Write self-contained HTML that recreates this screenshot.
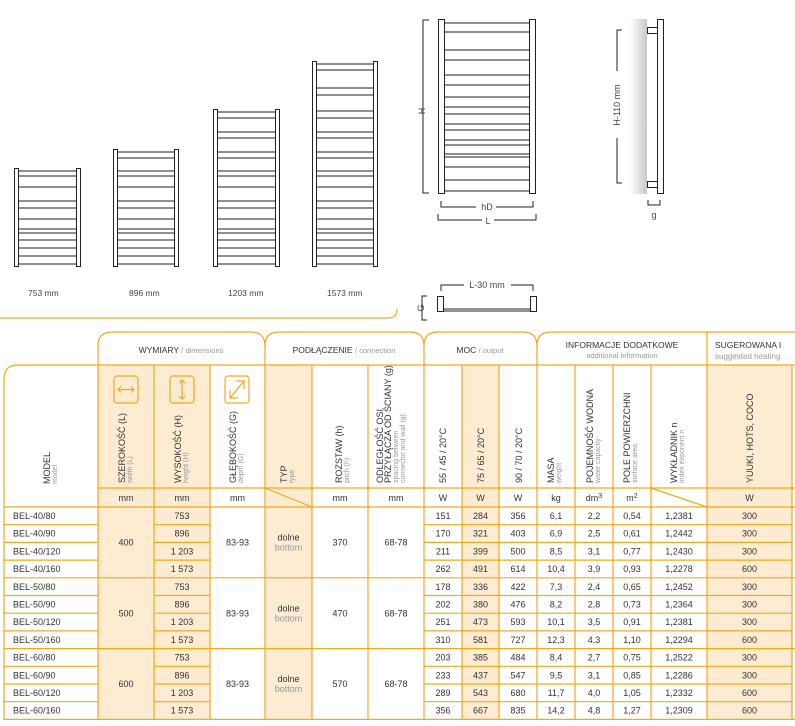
<!DOCTYPE html>
<html><head><meta charset="utf-8"><style>
html,body{margin:0;padding:0;background:#fff;width:795px;height:726px;overflow:hidden}
svg{display:block;font-family:"Liberation Sans",sans-serif}
.t{font-size:9px;fill:#333}
.s{font-size:7px;fill:#999}
.c{text-anchor:middle}
.o{stroke:#f5a81c;fill:none;stroke-width:1.2}
.k{stroke:#222;stroke-width:1;fill:none}
</style></head><body>
<svg width="795" height="726" viewBox="0 0 795 726">
<defs>
<linearGradient id="wall" x1="0" x2="1"><stop offset="0" stop-color="#fff"/><stop offset="1" stop-color="#c8c8c8"/></linearGradient>
</defs>
<!-- top drawings -->
<path class="o" d="M0,318 H388 Q397,318 397,309"/>
<g class="k">
<rect x="14.5" y="168.5" width="4" height="98"/><rect x="76.5" y="168.5" width="4" height="98"/>
<path d="M18,171H77M18,176H77M18,187H77M18,201H77M18,208H77M18,219H77M18,229H77M18,233H77M18,240H77M18,248H77M18,256H77M18,264H77"/>
<rect x="113.5" y="149.5" width="4" height="117"/><rect x="174.5" y="149.5" width="4" height="117"/>
<path d="M117,152H175M117,158H175M117,171H175M117,176H175M117,187H175M117,201H175M117,208H175M117,219H175M117,229H175M117,233H175M117,240H175M117,248H175M117,256H175M117,264H175"/>
<rect x="213.5" y="109.5" width="4" height="157"/><rect x="275.5" y="109.5" width="4" height="157"/>
<path d="M217,112H276M217,118H276M217,132H276M217,138H276M217,152H276M217,158H276M217,171H276M217,176H276M217,187H276M217,201H276M217,208H276M217,219H276M217,229H276M217,233H276M217,240H276M217,248H276M217,256H276M217,264H276"/>
<rect x="312.5" y="61.5" width="4" height="205"/><rect x="373.5" y="61.5" width="4" height="205"/>
<path d="M316,64H374M316,70H374M316,88H374M316,95H374M316,111H374M316,118H374M316,132H374M316,138H374M316,152H374M316,158H374M316,171H374M316,176H374M316,187H374M316,201H374M316,208H374M316,219H374M316,229H374M316,233H374M316,240H374M316,248H374M316,256H374M316,264H374"/>
</g>
<g style="font-size:8.5px;fill:#444">
<text x="28" y="296">753 mm</text><text x="129" y="296">896 mm</text><text x="228" y="296">1203 mm</text><text x="327" y="296">1573 mm</text>
</g>
<!-- main diagram -->
<g class="k">
<rect x="438.5" y="19.5" width="6" height="174"/><rect x="529.5" y="19.5" width="6" height="174"/>
<path d="M444,23H530M444,32H530M444,50H530M444,60H530M444,75H530M444,85H530M444,97H530M444,107H530M444,114H530M444,124H530M444,130H530M444,140H530M444,145H530M444,154H530M444,157H530M444,167H530M444,180H530M444,191H530"/>
<path d="M429,20H423V193H429M441,201V207H476M496,207H533V201M438,214V220H482M494,220H536V214"/>
<rect x="437.5" y="296.5" width="6" height="15"/><rect x="530.5" y="296.5" width="6" height="15"/>
<path d="M443,309H531M443,311H531M441,291V285H464M511,285H533V291M427,296H422V320H427"/>
<path d="M622,30H617V71M617,138V183H622"/>
<rect x="657.5" y="19.5" width="6" height="174"/>
<rect x="647.5" y="27.5" width="10" height="6"/><rect x="647.5" y="181.5" width="10" height="6"/>
<path d="M648,200V205H660V200"/>
</g>
<rect x="630" y="19" width="17" height="175" fill="url(#wall)"/>
<g style="font-size:9px;fill:#444">
<text x="0" y="0" transform="translate(425,111) rotate(-90)" text-anchor="middle">H</text>
<text x="487" y="210" text-anchor="middle">hD</text>
<text x="488" y="224" text-anchor="middle">L</text>
<text x="487" y="288" text-anchor="middle">L-30 mm</text>
<text x="0" y="0" transform="translate(424,308) rotate(-90)" text-anchor="middle">G</text>
<text x="0" y="0" transform="translate(620,105) rotate(-90)" text-anchor="middle">H-110 mm</text>
<text x="654" y="218" text-anchor="middle">g</text>
</g>
<!-- table fills -->
<g fill="#fdebd2">
<rect x="98" y="365" width="112" height="355"/>
<rect x="265" y="365" width="47" height="355"/>
<rect x="462" y="365" width="37" height="355"/>
<rect x="707" y="365" width="85" height="355"/>
</g>
<!-- table lines -->
<g class="o">
<path d="M98,365V346Q98,332 112,332H251Q265,332 265,346V365"/>
<path d="M265,346Q265,332 279,332H410Q424,332 424,346V365"/>
<path d="M424,346Q424,332 438,332H523Q537,332 537,346V365"/>
<path d="M537,346Q537,332 551,332H707V365"/>
<path d="M707,332H795"/>
<path d="M4,720V379Q4,365 18,365H795"/>
<path d="M98,365V720M154,365V720M210,365V720M265,365V720M312,365V720M368,365V720M424,365V720M462,365V720M499,365V720M537,365V720M575,365V720M613,365V720M651,365V720M707,365V720M792,365V720"/>
<path d="M98,488H795M4,507H795"/>
<path d="M265,488L312,507M651,488L707,507"/>
<path d="M4,577.8H795M4,648.6H795M4,719.4H795"/>
<path d="M4,524.7H98M4,542.4H98M4,560.1H98M4,595.5H98M4,613.2H98M4,630.9H98M4,666.3H98M4,684H98M4,701.7H98"/>
<path d="M154,524.7H210M154,542.4H210M154,560.1H210M154,595.5H210M154,613.2H210M154,630.9H210M154,666.3H210M154,684H210M154,701.7H210"/>
<path d="M424,524.7H792M424,542.4H792M424,560.1H792M424,595.5H792M424,613.2H792M424,630.9H792M424,666.3H792M424,684H792M424,701.7H792"/>
<rect x="114" y="376" width="24" height="27" rx="3"/>
<rect x="170" y="376" width="24" height="27" rx="3"/>
<rect x="225" y="376" width="24" height="27" rx="3"/>
<path d="M118,389.5H134M121,386.5L118,389.5L121,392.5M131,386.5L134,389.5L131,392.5"/>
<path d="M182,380V399M179,383L182,380L185,383M179,396L182,399L185,396"/>
<path d="M230,398L244,381M236,381H244V389M230,390V398H238"/>
</g>
<!-- group headers -->
<text x="181" y="353" class="c" style="font-size:8.5px;fill:#333">WYMIARY <tspan style="fill:#999;font-size:7.5px">/ dimensions</tspan></text>
<text x="344" y="353" class="c" style="font-size:8.5px;fill:#333">PODŁĄCZENIE <tspan style="fill:#999;font-size:7.5px">/ connection</tspan></text>
<text x="480" y="353" class="c" style="font-size:8.5px;fill:#333">MOC <tspan style="fill:#999;font-size:7.5px">/ output</tspan></text>
<text x="622" y="348" class="c" style="font-size:8.5px;fill:#333">INFORMACJE DODATKOWE</text>
<text x="622" y="358" class="c" style="font-size:7.5px;fill:#999">additional information</text>
<text x="715" y="348" style="font-size:8.5px;fill:#333">SUGEROWANA I</text>
<text x="715" y="359" style="font-size:8px;fill:#999">suggested heating</text>
<!-- vertical headers -->
<g>
<text class="t" transform="translate(50,484) rotate(-90)">MODEL</text>
<text class="s" transform="translate(57,484) rotate(-90)">model</text>
<text class="t" transform="translate(125,483) rotate(-90)">SZEROKOŚĆ (L)</text>
<text class="s" transform="translate(132,483) rotate(-90)">width (L)</text>
<text class="t" transform="translate(181,483) rotate(-90)">WYSOKOŚĆ (H)</text>
<text class="s" transform="translate(188,483) rotate(-90)">height (H)</text>
<text class="t" transform="translate(236,483) rotate(-90)">GŁĘBOKOŚĆ (G)</text>
<text class="s" transform="translate(243,483) rotate(-90)">depth (G)</text>
<text class="t" transform="translate(287,483) rotate(-90)">TYP</text>
<text class="s" transform="translate(294,483) rotate(-90)">type</text>
<text class="t" transform="translate(342,483) rotate(-90)">ROZSTAW (h)</text>
<text class="s" transform="translate(349,483) rotate(-90)">pitch (h)</text>
<text class="t" transform="translate(383,483) rotate(-90)">ODLEGŁOŚĆ OSI</text>
<text class="t" transform="translate(391,483) rotate(-90)">PRZYŁĄCZA OD ŚCIANY (g)</text>
<text class="s" transform="translate(398,483) rotate(-90)">spacing between</text>
<text class="s" transform="translate(405,483) rotate(-90)">connector and wall (g)</text>
<text class="t" transform="translate(446,483) rotate(-90)">55 / 45 / 20°C</text>
<text class="t" transform="translate(484,483) rotate(-90)">75 / 65 / 20°C</text>
<text class="t" transform="translate(522,483) rotate(-90)">90 / 70 / 20°C</text>
<text class="t" transform="translate(554,483) rotate(-90)">MASA</text>
<text class="s" transform="translate(561,483) rotate(-90)">weight</text>
<text class="t" transform="translate(593,483) rotate(-90)">POJEMNOŚĆ WODNA</text>
<text class="s" transform="translate(600,483) rotate(-90)">water capacity</text>
<text class="t" transform="translate(630,483) rotate(-90)">POLE POWIERZCHNI</text>
<text class="s" transform="translate(637,483) rotate(-90)">surface area</text>
<text class="t" transform="translate(677,483) rotate(-90)">WYKŁADNIK n</text>
<text class="s" transform="translate(684,483) rotate(-90)">index exponent n</text>
<text class="t" transform="translate(753,483) rotate(-90)">YUUKI, HOTS, COCO</text>
</g>
<!-- units -->
<g class="t c">
<text x="126" y="501">mm</text><text x="182" y="501">mm</text><text x="237.5" y="501">mm</text><text x="340" y="501">mm</text><text x="396" y="501">mm</text>
<text x="443" y="501">W</text><text x="480.5" y="501">W</text><text x="518" y="501">W</text><text x="556" y="501">kg</text><text x="594" y="501">dm<tspan dy="-3" style="font-size:7px">3</tspan></text><text x="632" y="501">m<tspan dy="-3" style="font-size:7px">2</tspan></text><text x="749.5" y="501">W</text>
</g>
<!-- group merged -->
<g class="t c">
<g transform="translate(0,545.5)"><text x="126">400</text><text x="237.5">83-93</text><text x="288.5" y="-5">dolne</text><text x="288.5" y="5" style="fill:#999">bottom</text><text x="340">370</text><text x="396">68-78</text></g>
<g transform="translate(0,616.3)"><text x="126">500</text><text x="237.5">83-93</text><text x="288.5" y="-5">dolne</text><text x="288.5" y="5" style="fill:#999">bottom</text><text x="340">470</text><text x="396">68-78</text></g>
<g transform="translate(0,687.1)"><text x="126">600</text><text x="237.5">83-93</text><text x="288.5" y="-5">dolne</text><text x="288.5" y="5" style="fill:#999">bottom</text><text x="340">570</text><text x="396">68-78</text></g>
</g>
<!-- rows -->
<g class="t c">
<g transform="translate(0,519)"><text x="13" text-anchor="start">BEL-40/80</text><text x="182">753</text><text x="443">151</text><text x="480.5">284</text><text x="518">356</text><text x="556">6,1</text><text x="594">2,2</text><text x="632">0,54</text><text x="679">1,2381</text><text x="749.5">300</text></g>
<g transform="translate(0,536.7)"><text x="13" text-anchor="start">BEL-40/90</text><text x="182">896</text><text x="443">170</text><text x="480.5">321</text><text x="518">403</text><text x="556">6,9</text><text x="594">2,5</text><text x="632">0,61</text><text x="679">1,2442</text><text x="749.5">300</text></g>
<g transform="translate(0,554.4)"><text x="13" text-anchor="start">BEL-40/120</text><text x="182">1 203</text><text x="443">211</text><text x="480.5">399</text><text x="518">500</text><text x="556">8,5</text><text x="594">3,1</text><text x="632">0,77</text><text x="679">1,2430</text><text x="749.5">300</text></g>
<g transform="translate(0,572.1)"><text x="13" text-anchor="start">BEL-40/160</text><text x="182">1 573</text><text x="443">262</text><text x="480.5">491</text><text x="518">614</text><text x="556">10,4</text><text x="594">3,9</text><text x="632">0,93</text><text x="679">1,2278</text><text x="749.5">600</text></g>
<g transform="translate(0,589.8)"><text x="13" text-anchor="start">BEL-50/80</text><text x="182">753</text><text x="443">178</text><text x="480.5">336</text><text x="518">422</text><text x="556">7,3</text><text x="594">2,4</text><text x="632">0,65</text><text x="679">1,2452</text><text x="749.5">300</text></g>
<g transform="translate(0,607.5)"><text x="13" text-anchor="start">BEL-50/90</text><text x="182">896</text><text x="443">202</text><text x="480.5">380</text><text x="518">476</text><text x="556">8,2</text><text x="594">2,8</text><text x="632">0,73</text><text x="679">1,2364</text><text x="749.5">300</text></g>
<g transform="translate(0,625.2)"><text x="13" text-anchor="start">BEL-50/120</text><text x="182">1 203</text><text x="443">251</text><text x="480.5">473</text><text x="518">593</text><text x="556">10,1</text><text x="594">3,5</text><text x="632">0,91</text><text x="679">1,2381</text><text x="749.5">300</text></g>
<g transform="translate(0,642.9)"><text x="13" text-anchor="start">BEL-50/160</text><text x="182">1 573</text><text x="443">310</text><text x="480.5">581</text><text x="518">727</text><text x="556">12,3</text><text x="594">4,3</text><text x="632">1,10</text><text x="679">1,2294</text><text x="749.5">600</text></g>
<g transform="translate(0,660.6)"><text x="13" text-anchor="start">BEL-60/80</text><text x="182">753</text><text x="443">203</text><text x="480.5">385</text><text x="518">484</text><text x="556">8,4</text><text x="594">2,7</text><text x="632">0,75</text><text x="679">1,2522</text><text x="749.5">300</text></g>
<g transform="translate(0,678.3)"><text x="13" text-anchor="start">BEL-60/90</text><text x="182">896</text><text x="443">233</text><text x="480.5">437</text><text x="518">547</text><text x="556">9,5</text><text x="594">3,1</text><text x="632">0,85</text><text x="679">1,2286</text><text x="749.5">300</text></g>
<g transform="translate(0,696)"><text x="13" text-anchor="start">BEL-60/120</text><text x="182">1 203</text><text x="443">289</text><text x="480.5">543</text><text x="518">680</text><text x="556">11,7</text><text x="594">4,0</text><text x="632">1,05</text><text x="679">1,2332</text><text x="749.5">600</text></g>
<g transform="translate(0,713.7)"><text x="13" text-anchor="start">BEL-60/160</text><text x="182">1 573</text><text x="443">356</text><text x="480.5">667</text><text x="518">835</text><text x="556">14,2</text><text x="594">4,8</text><text x="632">1,27</text><text x="679">1,2309</text><text x="749.5">600</text></g>
</g>
</svg>
</body></html>
